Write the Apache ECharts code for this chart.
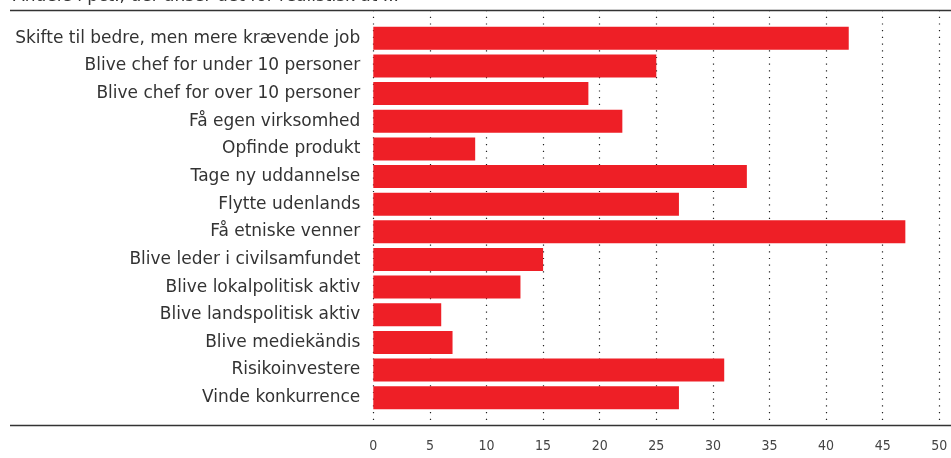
<!DOCTYPE html>
<html>
<head>
<meta charset="utf-8">
<title>Realistisk</title>
<style>
  html, body { margin: 0; padding: 0; background: #fff; }
  #chart { width: 951px; height: 458px; }
</style>
</head>
<body>
<div id="chart"></div>
<script src="https://cdn.jsdelivr.net/npm/echarts@6/dist/echarts.min.js"></script>
<script>
var categories = [
  'Skifte til bedre, men mere krævende job',
  'Blive chef for under 10 personer',
  'Blive chef for over 10 personer',
  'Få egen virksomhed',
  'Opfinde produkt',
  'Tage ny uddannelse',
  'Flytte udenlands',
  'Få etniske venner',
  'Blive leder i civilsamfundet',
  'Blive lokalpolitisk aktiv',
  'Blive landspolitisk aktiv',
  'Blive mediekändis',
  'Risikoinvestere',
  'Vinde konkurrence'
];
var values = [42, 25, 19, 22, 9, 33, 27, 47, 15, 13, 6, 7, 31, 27];
var axisMin = 0, axisMax = 50, axisStep = 5;

var chart = echarts.init(document.getElementById('chart'));
chart.setOption({
  animation: false,
  textStyle: { fontFamily: 'DejaVu Sans' },
  title: {
    text: 'Andele i pct., der anser det for realistisk at ...',
    left: 8, top: -16.5,
    textStyle: { fontSize: 17, fontWeight: 'normal', color: '#333' }
  },
  graphic: [
    { type: 'line', shape: { x1: 10, y1: 10.5, x2: 951, y2: 10.5 }, style: { stroke: '#333', lineWidth: 1.5 }, z: 10 },
    { type: 'line', shape: { x1: 10, y1: 425.5, x2: 951, y2: 425.5 }, style: { stroke: '#333', lineWidth: 1.5 }, z: 10 }
  ],
  grid: [
    { left: 373.3, right: 11.7, top: 10, bottom: 32 },
    { left: 373.3, right: 11.7, top: 24.5, height: 387 }
  ],
  xAxis: [
    {
      gridIndex: 0, type: 'value', min: axisMin, max: axisMax, interval: axisStep,
      axisLine: { show: false }, axisTick: { show: false },
      axisLabel: { margin: 13, fontSize: 14, color: '#444', fontFamily: 'DejaVu Sans Condensed' },
      splitLine: { show: true, lineStyle: { color: '#222', width: 1.2, type: [1.2, 5.5] } }
    },
    {
      gridIndex: 1, type: 'value', min: axisMin, max: axisMax, interval: axisStep,
      show: false
    }
  ],
  yAxis: [
    {
      gridIndex: 0, type: 'category', data: categories, show: false
    },
    {
      gridIndex: 1, type: 'category', data: categories, inverse: true,
      axisLine: { show: false }, axisTick: { show: false },
      axisLabel: { margin: 13, fontSize: 17, color: '#333' }
    }
  ],
  series: [{
    type: 'bar',
    xAxisIndex: 1, yAxisIndex: 1,
    data: values,
    barWidth: 23,
    itemStyle: { color: '#EE1F26' },
    z: 3
  }]
});
</script>
</body>
</html>
